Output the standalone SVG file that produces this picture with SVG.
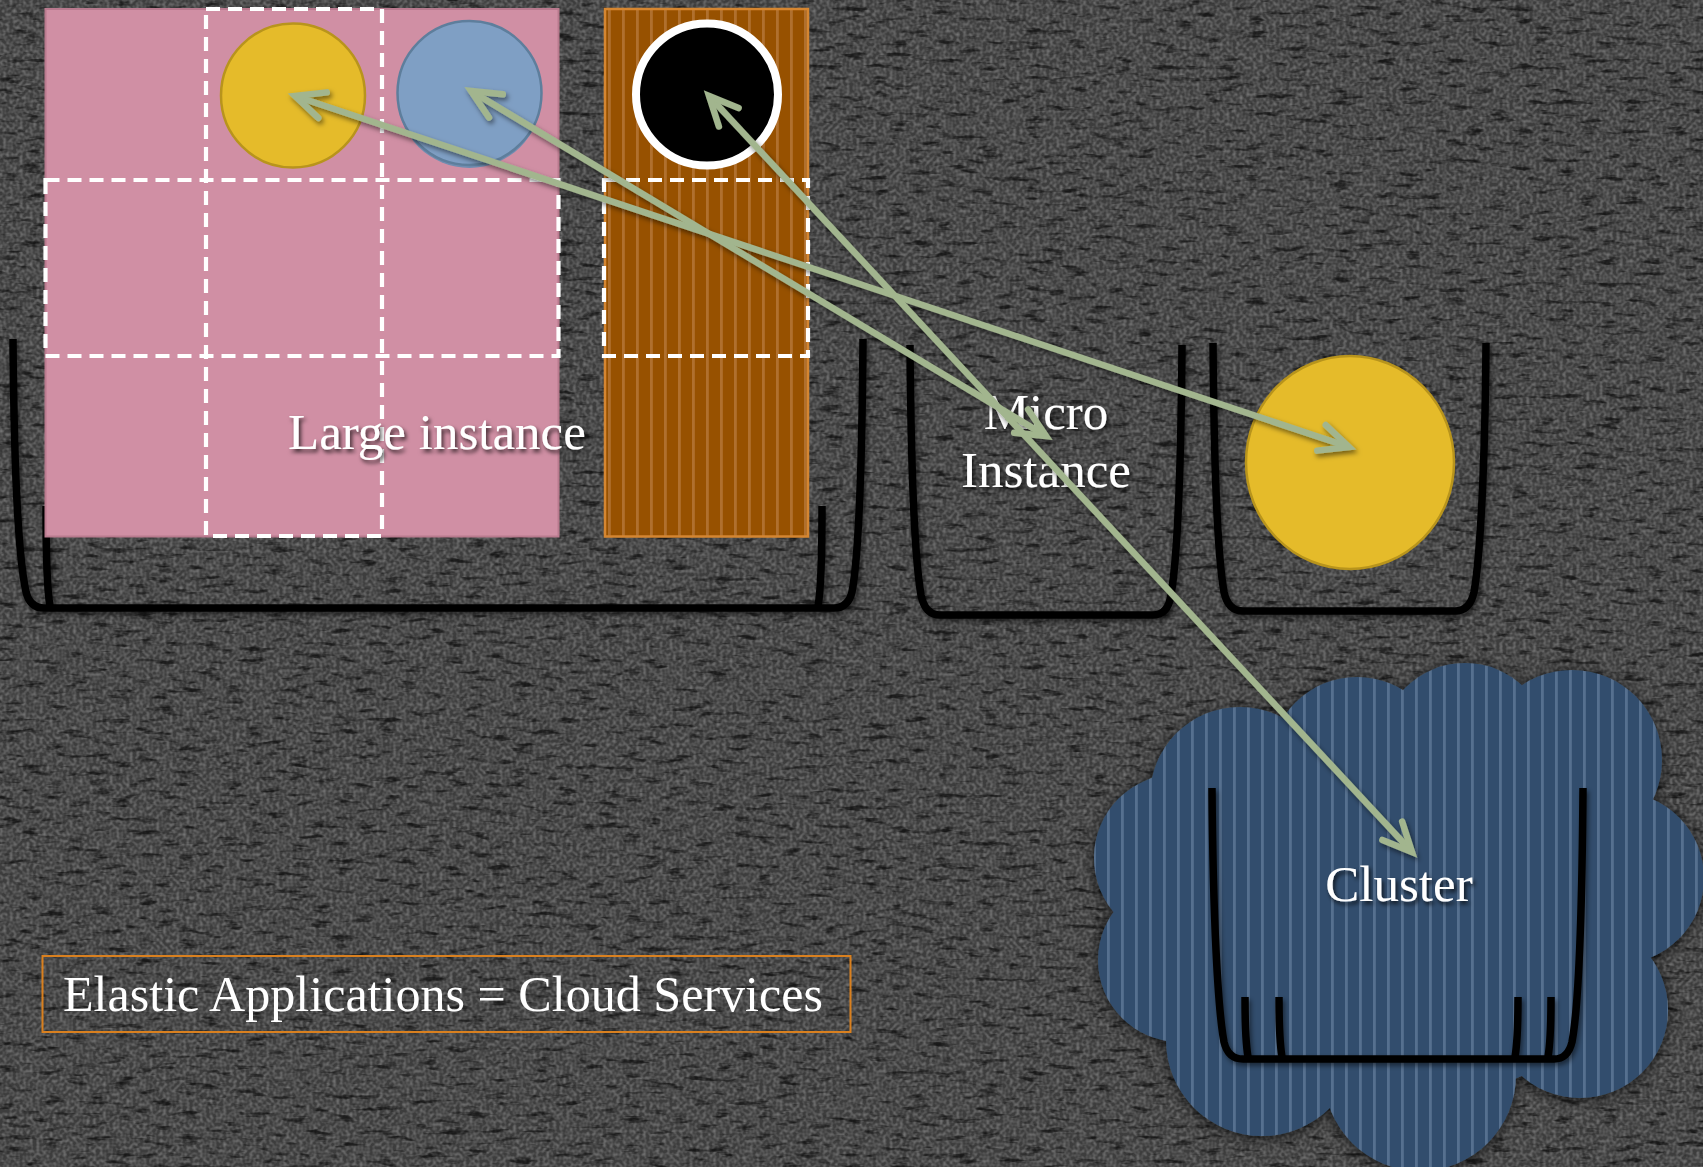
<svg xmlns="http://www.w3.org/2000/svg" width="1703" height="1167" viewBox="0 0 1703 1167">
  <defs>
    <filter id="tex" x="0" y="0" width="100%" height="100%">
      <feTurbulence type="fractalNoise" baseFrequency="0.045 0.17" numOctaves="3" seed="7"/>
      <feColorMatrix type="matrix" values="0 0 0 0 0  0 0 0 0 0  0 0 0 0 0  -4.5 0 0 0 1.95"/>
    </filter>
    <filter id="tex2" x="0" y="0" width="100%" height="100%">
      <feTurbulence type="fractalNoise" baseFrequency="0.3" numOctaves="1" seed="4"/>
      <feColorMatrix type="matrix" values="0 0 0 0 1  0 0 0 0 1  0 0 0 0 1  0.6 0 0 0 -0.22"/>
    </filter>
    <filter id="ts" x="-10%" y="-30%" width="120%" height="160%">
      <feDropShadow dx="2" dy="3" stdDeviation="2" flood-color="#000" flood-opacity="0.75"/>
    </filter>
    <filter id="sh" x="-10%" y="-10%" width="120%" height="120%">
      <feDropShadow dx="2" dy="3" stdDeviation="2.5" flood-color="#000" flood-opacity="0.5"/>
    </filter>
    <filter id="cloudsh" x="-10%" y="-10%" width="120%" height="120%">
      <feDropShadow dx="0" dy="2" stdDeviation="7" flood-color="#000" flood-opacity="0.7"/>
    </filter>
    <pattern id="orangeStripes" patternUnits="userSpaceOnUse" x="607" y="0" width="14" height="10">
      <rect width="14" height="10" fill="#975100"/>
      <rect x="1" width="2.8" height="10" fill="#b0702e"/>
    </pattern>
    <pattern id="blueStripes" patternUnits="userSpaceOnUse" x="1088" y="0" width="14" height="10">
      <rect width="14" height="10" fill="#334e6d"/>
      <rect x="5" width="2.8" height="10" fill="#56708f"/>
    </pattern>
    <marker id="ah" markerUnits="userSpaceOnUse" markerWidth="60" markerHeight="60" refX="0" refY="0" orient="auto-start-reverse" overflow="visible">
      <path d="M-29,-13.5 L0,0 L-29,13.5" fill="none" stroke="#a2b58e" stroke-width="6.5" stroke-linecap="round" stroke-linejoin="miter"/>
    </marker>
    <style>
      .dash { fill: none; stroke: #ffffff; stroke-width: 4.2; stroke-dasharray: 14 8; }
      .bucket { fill: none; stroke: #000000; stroke-width: 7.5; stroke-linejoin: round; }
      .lbl { font-family: "Liberation Serif", "DejaVu Serif", serif; fill: #ffffff; font-size: 51px; }
      .conn { fill: none; stroke: #a2b58e; stroke-width: 6.5; }
    </style>
  </defs>

  <g id="background">
    <rect width="1703" height="1167" fill="#3d3d3d"/>
    <rect width="1703" height="1167" filter="url(#tex2)"/>
    <rect width="1703" height="1167" filter="url(#tex)" opacity="0.6"/>
  </g>

  <g id="large-bucket" filter="url(#sh)">
    <path class="bucket" d="M13,339 C14,470 19,560 26,592 Q30,608 44,608 L834,608 Q848,608 852,592 C858,560 862,470 863,339"/>
    <path class="bucket" d="M46,506 C46,560 47,590 50,606"/>
    <path class="bucket" d="M822,506 C822,560 821,590 818,606"/>
  </g>

  <g id="large-instance">
    <rect x="45.5" y="9" width="513" height="527.5" fill="#d08fa4" stroke="#b97a8e" stroke-width="2"/>
    <rect class="dash" x="206" y="9" width="176" height="527"/>
    <rect class="dash" x="45.5" y="180" width="513" height="176"/>
    <circle cx="293" cy="95.5" r="72" fill="#e5bb2a" stroke="#b8941c" stroke-width="2.5"/>
    <circle cx="469.5" cy="96" r="72" fill="#6f8db0"/>
    <circle cx="469.5" cy="93" r="72" fill="#7f9fc4" stroke="#5e7e9c" stroke-width="2.5"/>
    <text class="lbl" x="288" y="449" filter="url(#ts)">Large instance</text>
  </g>

  <g id="small-instance">
    <rect x="605" y="9" width="203" height="527.5" fill="url(#orangeStripes)" stroke="#d58631" stroke-width="2.5"/>
    <rect class="dash" x="604" y="180" width="204" height="176"/>
    <circle cx="707" cy="94.5" r="71" fill="#000000" stroke="#ffffff" stroke-width="8"/>
  </g>

  <g id="micro-instance">
    <path class="bucket" filter="url(#sh)" d="M910,345 C911,470 915,560 921,595 Q925,615 940,615 L1153,615 Q1168,615 1171,595 C1177,560 1181,470 1182,345"/>
    <text class="lbl" x="1046" y="429" text-anchor="middle" filter="url(#ts)">Micro</text>
    <text class="lbl" x="1046" y="487" text-anchor="middle" filter="url(#ts)">Instance</text>
  </g>

  <g id="app-instance">
    <path class="bucket" filter="url(#sh)" d="M1213,343 C1214,470 1218,558 1224,592 Q1228,611 1243,611 L1455,611 Q1470,611 1474,592 C1480,558 1485,470 1486,343"/>
    <ellipse cx="1350" cy="462.5" rx="104" ry="106.5" fill="#e5bb2a" stroke="#b8941c" stroke-width="2.5"/>
  </g>

  <g id="cluster">
    <g filter="url(#cloudsh)" fill="url(#blueStripes)">
      <ellipse cx="1400" cy="910" rx="250" ry="190"/>
      <circle cx="1240" cy="797" r="90"/>
      <circle cx="1357" cy="764" r="87"/>
      <circle cx="1465" cy="747" r="84"/>
      <circle cx="1572" cy="760" r="90"/>
      <circle cx="1618" cy="878" r="86"/>
      <circle cx="1580" cy="1010" r="88"/>
      <circle cx="1420" cy="1075" r="96"/>
      <circle cx="1262" cy="1040" r="96"/>
      <circle cx="1180" cy="960" r="82"/>
      <circle cx="1178" cy="858" r="84"/>
    </g>
    <g filter="url(#sh)">
      <path class="bucket" d="M1212,788 C1213,920 1218,1010 1224,1042 Q1228,1059 1243,1059 L1554,1059 Q1568,1059 1572,1042 C1578,1010 1582,920 1583,788"/>
      <path class="bucket" d="M1245,997 C1245,1030 1246,1045 1248,1057"/>
      <path class="bucket" d="M1279,997 C1279,1030 1280,1045 1282,1057"/>
      <path class="bucket" d="M1518,997 C1518,1030 1517,1045 1515,1057"/>
      <path class="bucket" d="M1551,997 C1551,1030 1550,1045 1548,1057"/>
    </g>
    <text class="lbl" x="1399" y="901" text-anchor="middle" filter="url(#ts)">Cluster</text>
  </g>

  <g id="connectors" filter="url(#sh)">
    <line class="conn" x1="295" y1="96" x2="1349" y2="447" marker-start="url(#ah)" marker-end="url(#ah)"/>
    <line class="conn" x1="471" y1="91" x2="1046" y2="436" marker-start="url(#ah)" marker-end="url(#ah)"/>
    <line class="conn" x1="709" y1="96" x2="1412" y2="852" marker-start="url(#ah)" marker-end="url(#ah)"/>
  </g>

  <g id="title">
    <rect x="42.5" y="956" width="808" height="76" fill="none" stroke="#d9801f" stroke-width="2"/>
    <text class="lbl" x="63" y="1011" font-size="56" textLength="760" lengthAdjust="spacingAndGlyphs">Elastic Applications = Cloud Services</text>
  </g>
</svg>
